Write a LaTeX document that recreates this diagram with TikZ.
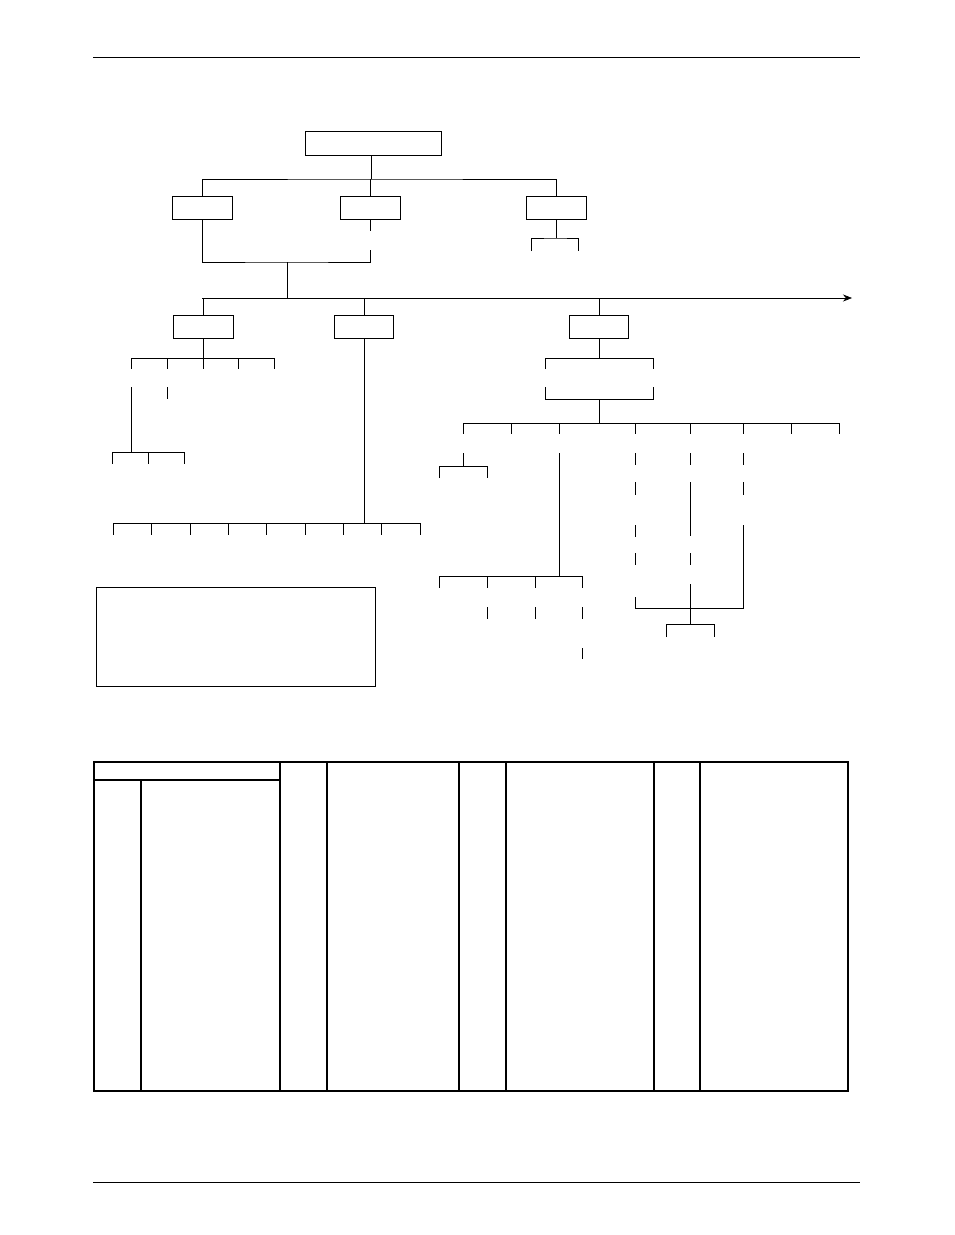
\documentclass[tikz,border=0pt]{standalone}
\usetikzlibrary{positioning}
\usetikzlibrary{arrows.meta}
\tikzset{
  unit/.style={draw,thick,minimum width=60pt,minimum height=23pt,inner sep=0pt},
  link/.style={semithick},
  rule/.style={thin}
}
\begin{document}
\begin{tikzpicture}[x=1pt,y=-1pt]
\useasboundingbox (0,0) rectangle (954,1235);
% page rules
\draw[rule] (93,57) -- (860,57);
\draw[rule] (93,1182) -- (860,1182);

% top level
\node[unit,minimum width=136pt,minimum height=24pt] (top) at (373,143) {};
\node[unit] (ua) at (202,208) {};
\node[unit] (ub) at (370,208) {};
\node[unit] (uc) at (556,208) {};
\draw[link] (top.south -| 371,0) -- (371,179) coordinate (t1);
\draw[link] (ua.north) |- (t1) -| (uc.north);
\draw[link] (ub.north) -- (370,179);
\draw[link] (uc.south) -- (556,238) coordinate (c1);
\draw[link] (531,251) |- (c1) -| (578,251);
\draw[link] (ub.south) -- (370,231);
\draw[link] (ua.south) |- (287,262) coordinate (m1) -| (370,250);
\draw[link] (m1) -- (287,298) coordinate (m2);
\draw[link,-{Stealth[length=9pt,width=7pt]}] (202,298) -- (852,298);

% second level
\node[unit] (ud) at (203,327) {};
\node[unit,minimum width=59pt] (ue) at (364,327) {};
\node[unit,minimum width=59pt] (uf) at (599,327) {};
\foreach \u/\x in {ud/203,ue/364,uf/599} \draw[link] (\x,298) -- (\u.north);

% under ud
\draw[link] (ud.south) -- (203,358);
\draw[link] (131,358) -- (274,358);
\foreach \x in {131,167,203,238,274} \draw[link] (\x,358) -- (\x,369);
\draw[link] (167,387) -- (167,399);
\draw[link] (131,387) -- (131,452);
\draw[link] (112,452) -- (184,452);
\foreach \x in {112,148,184} \draw[link] (\x,452) -- (\x,464);

% under ue
\draw[link] (ue.south) -- (364,523);
\draw[link] (113,523) -- (420,523);
\foreach \x in {113,151,190,228,266,305,343,381,420} \draw[link] (\x,523) -- (\x,535);

% under uf
\draw[link] (uf.south) -- (599,358);
\draw[link] (545,369) |- (653,358) -- (653,369);
\draw[link] (545,387) |- (653,399) -- (653,387);
\draw[link] (599,399) -- (599,423);
\draw[link] (463,423) -- (839,423);
\foreach \x in {463,511,559,635,690,743,791,839} \draw[link] (\x,423) -- (\x,434);
\draw[link] (463,453) -- (463,466);
\draw[link] (439,478) |- (487,466) -- (487,478);
\draw[link] (559,453) -- (559,576);
\draw[link] (439,576) -- (582,576);
\foreach \x in {439,487,535,582} \draw[link] (\x,576) -- (\x,588);
\foreach \x in {487,535,582} \draw[link] (\x,607) -- (\x,619);
\draw[link] (582,648) -- (582,659);
\foreach \a/\b in {453/465,482/495,525/537,553/565} \draw[link] (635,\a) -- (635,\b);
\foreach \a/\b in {453/465,482/536,553/565} \draw[link] (690,\a) -- (690,\b);
\foreach \a/\b in {453/465,482/495} \draw[link] (743,\a) -- (743,\b);
\draw[link] (635,597) |- (743,608) -- (743,525);
\draw[link] (690,584) -- (690,624);
\draw[link] (666,637) |- (714,624) -- (714,637);

% legend box
\draw[rule] (96,587) rectangle (375,686);

% table
\draw[line width=1.8pt] (94,762) rectangle (848,1091);
\draw[line width=1.3pt] (94,780) -- (280,780);
\draw[line width=1.3pt] (141,780) -- (141,1091);
\foreach \x in {280,327,459,506,654,700} \draw[line width=1.3pt] (\x,762) -- (\x,1091);
\end{tikzpicture}
\end{document}
